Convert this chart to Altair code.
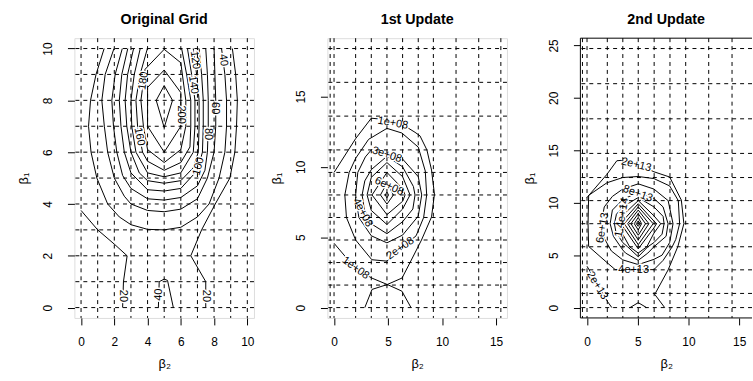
import altair as alt
import pandas as pd

FONT = "Liberation Sans"

# ---------------- Panel 1 : Original Grid ----------------
P1_TITLE = "Original Grid"
P1_XDOM = [-0.4, 10.4]
P1_YDOM = [-0.4, 10.4]
P1_XTICKS = [0, 2, 4, 6, 8, 10]
P1_YTICKS = [0, 2, 4, 6, 8, 10]
P1_XGRID = [0, 1, 2, 3, 4, 5, 6, 7, 8, 9, 10]
P1_YGRID = [0, 1, 2, 3, 4, 5, 6, 7, 8, 9, 10]

P1_L220 = [(5, 8.57), (5.5, 8), (5, 6.95), (4.52, 8), (5, 8.57)]
P1_L200 = [(5, 9.17), (6, 8.3), (6, 7), (5, 6.0), (4, 7), (4, 8.5), (5, 9.17)]
P1_L180 = [(5, 9.97), (6, 9.45), (6.3, 8), (6.3, 7), (6, 6.1), (5, 5.6), (4, 6.1),
           (3.75, 7), (3.6, 8), (3.85, 9.2), (5, 9.97)]
P1_L160 = [(3.99, 10), (3.55, 9), (3.3, 8), (3.4, 7), (3.7, 6), (4, 5.65), (5, 5.3),
           (6, 5.6), (6.55, 6.2), (6.6, 7), (6.6, 8), (6.35, 9), (6.05, 10)]
P1_L140 = [(3.56, 10), (3.2, 9), (3.0, 8), (3.05, 7), (3.3, 6), (4, 5.2), (5, 5.05),
           (6, 5.2), (6.75, 6), (6.85, 7), (6.85, 8), (6.65, 9), (6.4, 10)]
P1_L120 = [(3.16, 10), (2.8, 9), (2.65, 8), (2.75, 7), (3.0, 6), (3.5, 5.2), (4, 4.9),
           (5, 4.8), (6, 4.9), (6.75, 5.4), (7.05, 6), (7.1, 7), (7.1, 8), (6.95, 9), (6.75, 10)]
P1_L100 = [(2.81, 10), (2.45, 9), (2.3, 8), (2.4, 7), (2.6, 6), (3.0, 5.2), (4, 4.55),
           (5, 4.5), (6, 4.6), (7, 5.3), (7.3, 6), (7.35, 7), (7.35, 8), (7.25, 9), (7.1, 10)]
P1_L80 = [(2.48, 10), (2.05, 9), (1.85, 8), (1.95, 7), (2.15, 6), (2.5, 5.1), (3, 4.6),
          (4, 4.2), (5, 4.15), (6, 4.25), (7, 4.7), (7.45, 5.3), (7.6, 6), (7.65, 7),
          (7.65, 8), (7.6, 9), (7.5, 10)]
P1_L60 = [(1.98, 10), (1.45, 9), (1.25, 8), (1.4, 7), (1.6, 6), (2, 5), (2.6, 4.3), (3, 4),
          (4, 3.75), (5, 3.7), (6, 3.8), (7, 4.2), (7.6, 5), (8, 6), (8.1, 7), (8.1, 8),
          (8.05, 9), (8.0, 10)]
P1_L40 = [(1.39, 10), (0.9, 9), (0.57, 8), (0.45, 7), (0.6, 6), (0.95, 5), (1.6, 4),
          (2.3, 3.5), (3, 3.2), (4, 3.02), (5, 3.0), (6, 3.1), (7, 3.5), (7.7, 4), (8.3, 5),
          (8.65, 6), (8.75, 7), (8.75, 8), (8.65, 9), (8.45, 10)]
P1_L40CAP = [(4.65, 0), (4.7, 1.0), (5.0, 1.1), (5.2, 1.05), (5.55, 0)]
P1_L20A = [(0, 3.75), (1, 3.0), (2, 2.45), (2.77, 2.0), (2.55, 1.0), (2.5, 0)]
P1_L20B = [(7.5, 0), (7.5, 1.0), (6.6, 2.0), (7.25, 3.0), (8.07, 4.0), (8.95, 5.0),
           (9.25, 6), (9.35, 7), (9.4, 8), (9.3, 9), (9.1, 10)]

P1_LAB_TEXT = ["20", "40", "20", "40", "60", "80", "100", "120", "140", "160", "180", "200"]
P1_LAB_X = [2.52, 4.67, 7.5, 8.55, 8.08, 7.63, 7.07, 6.85, 6.75, 3.5, 3.76, 5.98]
P1_LAB_Y = [0.45, 0.5, 0.45, 9.55, 7.7, 6.7, 5.45, 9.55, 8.6, 6.6, 8.75, 7.45]
P1_LAB_ANGLE = [90, 272, 90, 82, 90, 90, 285, 82, 82, 79, 278, 90]

# ---------------- Panel 2 : 1st Update ----------------
P2_TITLE = "1st Update"
P2_XDOM = [-0.616, 16.016]
P2_YDOM = [-0.736, 19.136]
P2_XTICKS = [0, 5, 10, 15]
P2_YTICKS = [0, 5, 10, 15]
P2_XGRID = [-0.36, 0, 2.0, 3.45, 4.9, 6.35, 7.8, 9.2, 11.3, 13.4, 15.45]
P2_YGRID = [0, 1.6, 3.2, 4.8, 6.4, 8.0, 9.6, 11.2, 13.6, 16.0, 18.4]

P2_L8 = [(4.9, 8.2), (5.05, 8.0), (4.9, 7.8), (4.75, 8.0), (4.9, 8.2)]
P2_L7 = [(4.9, 8.85), (5.5, 8.0), (4.9, 7.35), (4.3, 8.0), (4.9, 8.85)]
P2_L6 = [(4.9, 9.6), (6.35, 8.45), (6.58, 8.0), (6.35, 7.55), (4.9, 6.6), (3.52, 8.0), (4.9, 9.6)]
P2_L5 = [(4.9, 10.3), (6.35, 9.3), (7.04, 8.0), (6.35, 7.0), (4.9, 5.9), (3.45, 6.9),
         (3.06, 8.0), (3.45, 9.25), (4.9, 10.3)]
P2_L4 = [(4.9, 10.75), (6.35, 10.0), (7.35, 8.6), (7.5, 8.0), (7.3, 7.0), (6.35, 6.1),
         (4.9, 5.25), (3.45, 5.95), (2.8, 7.0), (2.6, 8.0), (2.85, 9.0), (3.45, 9.8), (4.9, 10.75)]
P2_L3 = [(3.45, 11.2), (4.9, 11.0), (6.35, 10.55), (7.8, 9.3), (8.12, 8.0), (7.8, 6.5),
         (6.35, 5.15), (4.9, 4.6), (3.45, 5.1), (2.3, 6.4), (2.0, 8.0), (2.2, 9.6),
         (2.9, 10.7), (3.45, 11.2)]
P2_L2 = [(4.9, 12.73), (6.28, 12.4), (7.8, 11.4), (8.45, 9.7), (8.58, 8.0), (8.3, 6.4),
         (7.6, 5.1), (6.35, 4.3), (4.9, 3.3), (3.5, 3.4), (2.0, 4.8), (1.15, 6.4), (1.0, 8.0),
         (1.4, 9.6), (2.0, 10.6), (3.2, 11.95), (4.9, 12.73)]
P2_L1A = [(0, 9.6), (2.0, 12.0), (3.45, 13.45), (4.9, 13.35), (6.35, 13.0), (7.5, 12.45),
          (7.96, 12.2), (8.6, 11.2), (9.03, 9.77), (9.3, 8.05), (9.03, 6.44), (8.1, 4.8),
          (7.04, 3.2), (6.3, 2.1), (4.93, 1.64), (3.52, 2.09), (2.0, 2.76), (0, 4.57)]
P2_L1B = [(2.85, 0), (3.52, 1.29), (4.93, 1.64), (6.28, 1.17), (7.13, 0)]

P2_LAB_TEXT = ["1e+08", "3e+08", "6e+08", "4e+08", "2e+08", "1e+08"]
P2_LAB_X = [5.45, 4.9, 5.1, 2.65, 6.15, 2.0]
P2_LAB_Y = [13.1, 10.85, 8.6, 6.75, 4.2, 2.8]
P2_LAB_ANGLE = [10, 18, 25, 62, 325, 36]

# ---------------- Panel 3 : 2nd Update ----------------
P3_TITLE = "2nd Update"
P3_XDOM = [-0.656, 16.27]
P3_YDOM = [-0.988, 25.688]
P3_XTICKS = [0, 5, 10, 15]
P3_YTICKS = [0, 5, 10, 15, 20, 25]
P3_XGRID = [-0.45, 0, 2.0, 3.53, 5.05, 6.62, 8.18, 9.73, 12.0, 14.3]
P3_YGRID = [0, 1.35, 3.6, 5.8, 8.0, 10.2, 12.4, 14.7, 18.0, 21.35, 24.7]

P3_L24 = [(5.05, 8.25), (5.25, 8), (5.05, 7.75), (4.85, 8), (5.05, 8.25)]
P3_L22 = [(5.05, 8.6), (5.38, 8), (5.05, 7.4), (4.66, 8), (5.05, 8.6)]
P3_L20 = [(5.05, 8.95), (5.77, 8), (5.05, 6.9), (4.33, 8), (5.05, 8.95)]
P3_L18 = [(5.05, 9.3), (6.1, 8), (5.05, 6.45), (4.01, 8), (5.05, 9.3)]
P3_L16 = [(5.05, 9.6), (6.52, 8), (5.05, 6.0), (3.68, 8), (5.05, 9.6)]
P3_L14 = [(5.05, 9.9), (6.6, 8.25), (6.85, 8), (6.6, 7.6), (5.05, 5.6), (3.52, 7.75),
          (3.36, 8), (3.52, 8.25), (5.05, 9.9)]
P3_L12 = [(5.05, 10.2), (6.6, 8.75), (7.27, 8), (6.6, 7.1), (5.9, 5.8), (5.05, 5.2),
          (4.2, 5.8), (3.52, 7.0), (3.03, 8), (3.52, 8.8), (5.05, 10.2)]
P3_L10 = [(5.05, 10.5), (6.6, 9.6), (7.5, 8.7), (7.6, 8), (7.4, 7.0), (6.6, 6.2), (6.0, 5.8),
          (5.05, 4.85), (4.0, 5.8), (3.52, 6.2), (2.85, 7.2), (2.7, 8), (2.9, 8.9), (3.52, 9.6),
          (5.05, 10.5)]
P3_L8 = [(5.05, 11.0), (6.6, 10.4), (7.5, 9.6), (7.99, 8), (7.8, 6.8), (6.6, 5.8), (6.0, 5.2),
         (5.05, 4.5), (3.8, 5.2), (3.52, 5.5), (2.6, 6.8), (2.28, 8), (2.5, 9.3), (3.52, 10.3),
         (5.05, 11.0)]
P3_L6 = [(5.05, 11.8), (6.6, 11.3), (8.0, 10.2), (8.48, 8), (8.15, 6.2), (7.4, 5.0), (6.6, 4.6),
         (5.05, 4.1), (3.52, 4.55), (2.4, 5.4), (1.7, 6.6), (1.4, 8), (1.7, 9.6), (2.5, 10.6),
         (3.52, 11.3), (5.05, 11.8)]
P3_L4 = [(5.05, 12.5), (6.6, 12.3), (8.15, 11.6), (9.0, 10.2), (9.13, 8), (8.75, 6.5),
         (8.4, 5.8), (7.5, 4.5), (6.6, 3.62), (5.05, 3.6), (3.52, 3.6), (2.77, 3.63),
         (1.96, 4.3), (0.16, 5.83), (0.1, 8), (0.16, 10.7), (1.96, 11.9), (3.52, 12.4), (5.05, 12.5)]
P3_L2A = [(0.0, 10.5), (1.96, 12.7), (2.94, 14.0), (3.52, 14.05), (5.05, 13.65), (6.6, 12.95),
          (8.15, 12.45), (9.3, 10.25), (9.55, 8.0), (8.96, 5.83), (8.0, 3.6), (6.68, 1.26),
          (7.66, 0)]
P3_L2B = [(0.0, 3.94), (1.0, 2.3), (1.96, 0.65), (2.45, 0)]
P3_L2C = [(4.24, 0), (5.05, 0.47), (5.87, 0)]

P3_LAB_TEXT = ["2e+13", "8e+13", "6e+13", "1.4e+14", "4e+13", "2e+13"]
P3_LAB_X = [4.85, 5.0, 1.55, 3.45, 4.6, 1.0]
P3_LAB_Y = [13.6, 10.85, 7.6, 8.6, 3.6, 2.1]
P3_LAB_ANGLE = [14, 20, 280, 280, 0, 59]


# ---------------- building ----------------
def lines_df(named):
    rows = []
    for name, pts in named.items():
        for i, (x, y) in enumerate(pts):
            rows.append({"id": name, "ord": i, "x": x, "y": y})
    return pd.DataFrame(rows)


def panel(title, named_lines, lab_t, lab_x, lab_y, lab_a, xgrid, ygrid,
          xdom, ydom, xticks, yticks, width, open_right=False):
    xs = alt.Scale(domain=xdom, nice=False, zero=False)
    ys = alt.Scale(domain=ydom, nice=False, zero=False)
    common = dict(grid=False, domain=False, ticks=True, tickSize=7, tickColor="black",
                  tickWidth=1, labelFont=FONT, labelFontSize=12, labelColor="black",
                  labelFlush=False, labelOverlap=False, labelBound=False,
                  titleFont=FONT, titleFontSize=13, titleFontWeight="normal",
                  titleColor="black", titleBaseline="middle")
    xaxis = alt.Axis(values=xticks, title="β₂", labelPadding=12, labelBaseline="top",
                     titleY=46, **common)
    yaxis = alt.Axis(values=yticks, title="β₁", labelAngle=270, labelPadding=13,
                     labelBaseline="bottom", labelAlign="center",
                     titleAngle=270, titleX=-51, **common)
    X = alt.X("x:Q", scale=xs, axis=xaxis)
    Y = alt.Y("y:Q", scale=ys, axis=yaxis)

    contour = alt.Chart(lines_df(named_lines)).mark_line(
        color="black", strokeWidth=1, clip=True
    ).encode(x=X, y=Y, detail="id:N", order="ord:Q")

    lab = pd.DataFrame({"t": lab_t, "x": lab_x, "y": lab_y, "a": lab_a})
    halo = alt.Chart(lab).mark_text(
        font=FONT, fontSize=11, color="white", stroke="white", strokeWidth=3
    ).encode(x=X, y=Y, text="t:N", angle=alt.Angle("a:Q", scale=None))
    txt = alt.Chart(lab).mark_text(
        font=FONT, fontSize=11, color="black"
    ).encode(x=X, y=Y, text="t:N", angle=alt.Angle("a:Q", scale=None))

    dash = dict(color="black", strokeWidth=1, strokeDash=[4, 4])
    vgrid = alt.Chart(pd.DataFrame({"x": xgrid})).mark_rule(**dash).encode(x=X)
    hgrid = alt.Chart(pd.DataFrame({"y": ygrid})).mark_rule(**dash).encode(y=Y)

    layers = [contour, halo, txt, vgrid, hgrid]
    if open_right:
        boxv = alt.Chart(pd.DataFrame({"x": [xdom[0]]})).mark_rule(
            color="black", strokeWidth=1).encode(x=X)
        boxh = alt.Chart(pd.DataFrame({"y": ydom})).mark_rule(
            color="black", strokeWidth=1).encode(y=Y)
        layers += [boxv, boxh]

    props = dict(
        width=width, height=282,
        title=alt.TitleParams(title, font=FONT, fontSize=14.4, fontWeight="bold",
                              color="black", anchor="middle", frame="group",
                              baseline="alphabetic", offset=-1),
    )
    ch = alt.layer(*layers).properties(**props)
    if open_right:
        ch = ch.properties(view=alt.ViewBackground(stroke="transparent"))
    return ch


p1 = panel(P1_TITLE,
           {"220": P1_L220, "200": P1_L200, "180": P1_L180, "160": P1_L160,
            "140": P1_L140, "120": P1_L120, "100": P1_L100, "80": P1_L80,
            "60": P1_L60, "40": P1_L40, "40c": P1_L40CAP, "20a": P1_L20A, "20b": P1_L20B},
           P1_LAB_TEXT, P1_LAB_X, P1_LAB_Y, P1_LAB_ANGLE, P1_XGRID, P1_YGRID,
           P1_XDOM, P1_YDOM, P1_XTICKS, P1_YTICKS, 181)
p2 = panel(P2_TITLE,
           {"8": P2_L8, "7": P2_L7, "6": P2_L6, "5": P2_L5, "4": P2_L4, "3": P2_L3,
            "2": P2_L2, "1a": P2_L1A, "1b": P2_L1B},
           P2_LAB_TEXT, P2_LAB_X, P2_LAB_Y, P2_LAB_ANGLE, P2_XGRID, P2_YGRID,
           P2_XDOM, P2_YDOM, P2_XTICKS, P2_YTICKS, 181)
p3 = panel(P3_TITLE,
           {"24": P3_L24, "22": P3_L22, "20": P3_L20, "18": P3_L18, "16": P3_L16,
            "14": P3_L14, "12": P3_L12, "10": P3_L10, "8": P3_L8, "6": P3_L6,
            "4": P3_L4, "2a": P3_L2A, "2b": P3_L2B, "2c": P3_L2C},
           P3_LAB_TEXT, P3_LAB_X, P3_LAB_Y, P3_LAB_ANGLE, P3_XGRID, P3_YGRID,
           P3_XDOM, P3_YDOM, P3_XTICKS, P3_YTICKS, 173, open_right=True)

chart = alt.hconcat(p1, p2, p3, spacing=74, bounds="flush").properties(
    padding={"left": 17, "top": 10, "right": 0, "bottom": 0}
).configure_view(stroke="black", strokeWidth=1).configure(background="white")

chart.save("out.html", embed_options={"renderer": "svg", "actions": False})
